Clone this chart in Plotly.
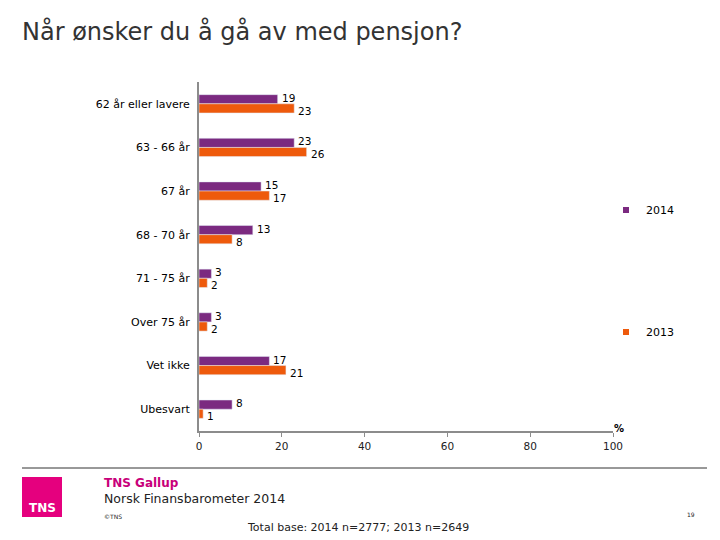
import plotly.graph_objects as go

categories = ["62 år eller lavere", "63 - 66 år", "67 år", "68 - 70 år",
              "71 - 75 år", "Over 75 år", "Vet ikke", "Ubesvart"]
values_2014 = [19, 23, 15, 13, 3, 3, 17, 8]
values_2013 = [23, 26, 17, 8, 2, 2, 21, 1]
x_ticks = [0, 20, 40, 60, 80, 100]

W, H = 720, 540
OFF = 8  # page body margin
L, R, T, B = 199 - OFF, 613 - OFF, 82 - OFF, 431 - OFF


def px(x):
    return (x - OFF - L) / (R - L)


def py(y):
    return (B - (y - OFF)) / (B - T)


FONT = "DejaVu Sans"
PURPLE = "#7B2A80"
ORANGE = "#EE5A0C"

fig = go.Figure()
fig.add_trace(go.Bar(
    y=categories, x=values_2014, name="2014", orientation="h",
    marker=dict(color=PURPLE), showlegend=False))
fig.add_trace(go.Bar(
    y=categories, x=values_2013, name="2013", orientation="h",
    marker=dict(color=ORANGE), showlegend=False))
# legend entries with small square markers
fig.add_trace(go.Scatter(
    x=[None], y=[None], mode="markers", name="2014",
    marker=dict(symbol="square", size=6, color=PURPLE), legend="legend"))
fig.add_trace(go.Scatter(
    x=[None], y=[None], mode="markers", name="2013",
    marker=dict(symbol="square", size=6, color=ORANGE), legend="legend2"))

fig.update_layout(
    width=W, height=H,
    margin=dict(l=L, r=W - R, t=T, b=H - B),
    paper_bgcolor="white", plot_bgcolor="white",
    barmode="group", bargap=0.58, bargroupgap=0,
    font=dict(family=FONT, color="#000"),
    title=dict(text="Når ønsker du å gå av med pensjon?", x=(22 - OFF) / W,
               xanchor="left", y=1 - (32 - OFF) / H, yanchor="middle",
               font=dict(family=FONT, size=24, color="#333")),
    xaxis=dict(range=[0, 100], tickvals=x_ticks, showgrid=False, zeroline=False,
               showline=True, linecolor="#8c8c8c", linewidth=2,
               ticks="outside", ticklen=4, tickcolor="#8c8c8c",
               tickfont=dict(family=FONT, size=10.5, color="#222")),
    yaxis=dict(autorange="reversed", showgrid=False, zeroline=False,
               showline=True, linecolor="#8c8c8c", linewidth=2,
               ticks="", ticklabelstandoff=5,
               tickfont=dict(family=FONT, size=11, color="#000")),
    legend=dict(x=px(606), y=py(210), xanchor="left", yanchor="middle",
                font=dict(family=FONT, size=11), itemwidth=30,
                bgcolor="rgba(0,0,0,0)"),
    legend2=dict(x=px(606), y=py(332), xanchor="left", yanchor="middle",
                 font=dict(family=FONT, size=11), itemwidth=30,
                 bgcolor="rgba(0,0,0,0)"),
    showlegend=True,
)

shapes = [
    dict(type="line", xref="paper", yref="paper", x0=px(22), x1=px(707),
         y0=py(468), y1=py(468), line=dict(color="#333", width=1)),
    dict(type="rect", xref="paper", yref="paper", x0=px(22), x1=px(62),
         y0=py(477), y1=py(517), fillcolor="#E5007E", line=dict(width=0),
         layer="below"),
]
fig.update_layout(shapes=shapes)

annotations = []
# value labels: 2014 nudged up, 2013 nudged down (as in the reference)
for cat, v in zip(categories, values_2014):
    annotations.append(dict(text=str(v), x=v, y=cat, xref="x", yref="y",
                            xanchor="left", yanchor="middle", xshift=2, yshift=6,
                            showarrow=False,
                            font=dict(family=FONT, size=10.5, color="#000")))
for cat, v in zip(categories, values_2013):
    annotations.append(dict(text=str(v), x=v, y=cat, xref="x", yref="y",
                            xanchor="left", yanchor="middle", xshift=2, yshift=-7,
                            showarrow=False,
                            font=dict(family=FONT, size=10.5, color="#000")))

annotations += [
    dict(text="<b>%</b>", x=px(619), y=py(428), xref="paper", yref="paper",
         xanchor="center", yanchor="middle", showarrow=False,
         font=dict(family=FONT, size=10, color="#000")),
    dict(text="<b>TNS</b>", x=px(42), y=py(508), xref="paper", yref="paper",
         xanchor="center", yanchor="middle", showarrow=False,
         font=dict(family=FONT, size=12, color="white")),
    dict(text="<b>TNS Gallup</b>", x=px(102), y=py(483), xref="paper", yref="paper",
         xanchor="left", yanchor="middle", showarrow=False,
         font=dict(family=FONT, size=12, color="#C8007A")),
    dict(text="Norsk Finansbarometer 2014", x=px(102), y=py(498), xref="paper",
         yref="paper", xanchor="left", yanchor="middle", showarrow=False,
         font=dict(family=FONT, size=12.5, color="#222")),
    dict(text="©TNS", x=px(102), y=py(516), xref="paper", yref="paper",
         xanchor="left", yanchor="middle", showarrow=False,
         font=dict(family=FONT, size=6, color="#222")),
    dict(text="19", x=px(697), y=py(514), xref="paper", yref="paper",
         xanchor="right", yanchor="middle", showarrow=False,
         font=dict(family=FONT, size=6, color="#222")),
    dict(text="Total base: 2014 n=2777; 2013 n=2649", x=px(358), y=py(527),
         xref="paper", yref="paper", xanchor="center", yanchor="middle",
         showarrow=False, font=dict(family=FONT, size=11, color="#222")),
]
fig.update_layout(annotations=annotations)

fig.write_html("out.html")
